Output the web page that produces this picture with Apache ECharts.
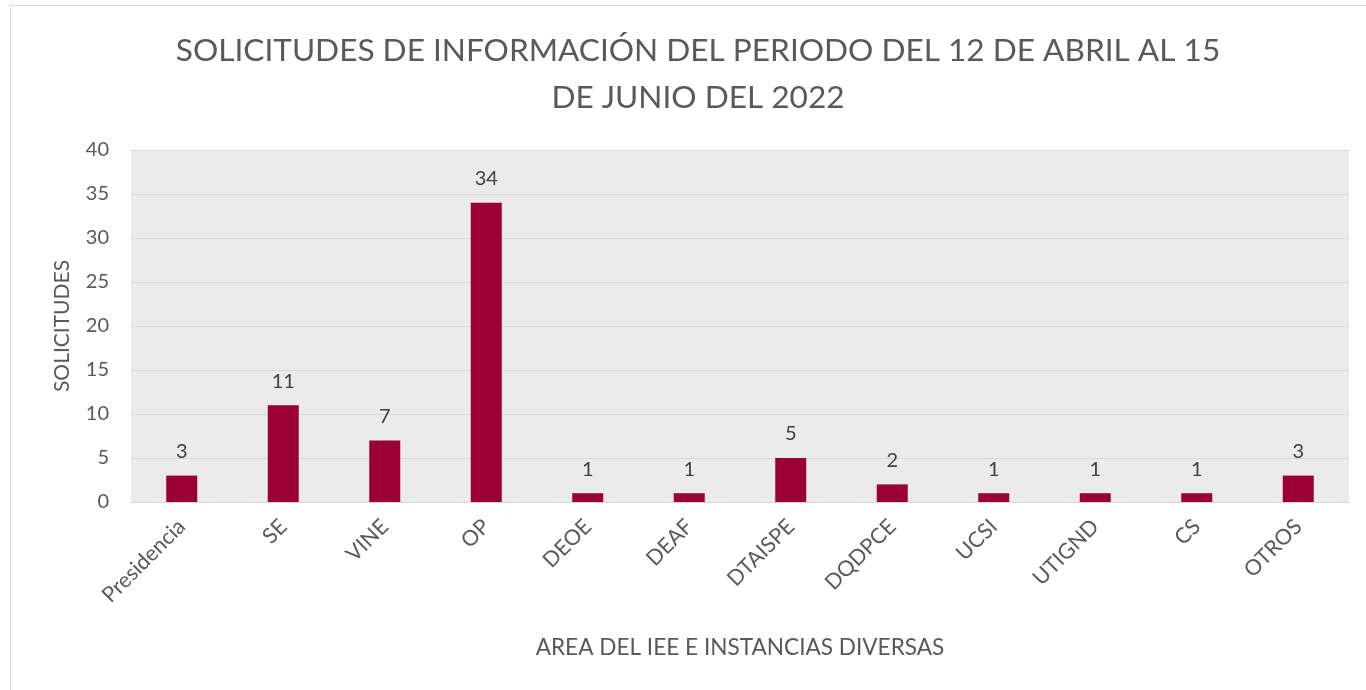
<!DOCTYPE html>
<html>
<head>
<meta charset="utf-8">
<script src="https://cdn.jsdelivr.net/npm/echarts@6/dist/echarts.min.js"></script>
<style>
html,body{margin:0;padding:0;background:#fff;}
#frame{position:absolute;left:10px;top:5px;width:1360px;height:700px;border:1px solid #D9D9D9;box-sizing:border-box;}
#c{position:absolute;left:0;top:0;width:1366px;height:690px;}
</style>
</head>
<body>
<div id="frame"></div>
<div id="c"></div>
<script>
const categories = ['Presidencia','SE','VINE','OP','DEOE','DEAF','DTAISPE','DQDPCE','UCSI','UTIGND','CS','OTROS'];
const values = [3, 11, 7, 34, 1, 1, 5, 2, 1, 1, 1, 3];
const yTicks = [0, 5, 10, 15, 20, 25, 30, 35, 40];
const titleText = 'SOLICITUDES DE INFORMACIÓN DEL PERIODO DEL 12 DE ABRIL AL 15\nDE JUNIO DEL 2022';
const xName = 'AREA DEL IEE E INSTANCIAS DIVERSAS';
const yName = 'SOLICITUDES';

const chart = echarts.init(document.getElementById('c'), null, {renderer:'canvas'});
const font = 'Lato, "Open Sans", sans-serif';
chart.setOption({
  animation:false,
  backgroundColor:'transparent',
  title:{
    text:titleText,
    left:693, top:22, textAlign:'center',
    textStyle:{fontFamily:font, fontSize:31.6, fontWeight:'normal', color:'#595959', lineHeight:47}
  },
  grid:{left:131, top:150, width:1218, height:352, show:true, backgroundColor:'#EBEBEB', borderWidth:0},
  xAxis:{
    type:'category', data:categories,
    name:xName, nameLocation:'middle', nameGap:134,
    nameTextStyle:{fontFamily:font, fontSize:22.6, color:'#595959'},
    axisLine:{show:true, lineStyle:{color:'#D9D9D9', width:1}},
    axisTick:{show:false},
    axisLabel:{rotate:45, interval:0, margin:21, fontFamily:font, fontSize:21.5, color:'#595959'}
  },
  yAxis:{
    type:'value', min:0, max:40, interval:5,
    name:yName, nameLocation:'middle', nameGap:58,
    nameTextStyle:{fontFamily:font, fontSize:21, color:'#595959'},
    axisLine:{show:false}, axisTick:{show:false},
    splitLine:{lineStyle:{color:'#D9D9D9', width:1}},
    axisLabel:{fontFamily:font, fontSize:20, color:'#595959', margin:22,
      formatter:function(v){ return yTicks.indexOf(v) >= 0 ? String(v) : ''; }}
  },
  series:[{
    type:'bar', data:values, barWidth:31,
    itemStyle:{color:'#9B0034'},
    label:{show:true, position:'top', distance:14, fontFamily:font, fontSize:20, color:'#404040'}
  }]
});
</script>
</body>
</html>
